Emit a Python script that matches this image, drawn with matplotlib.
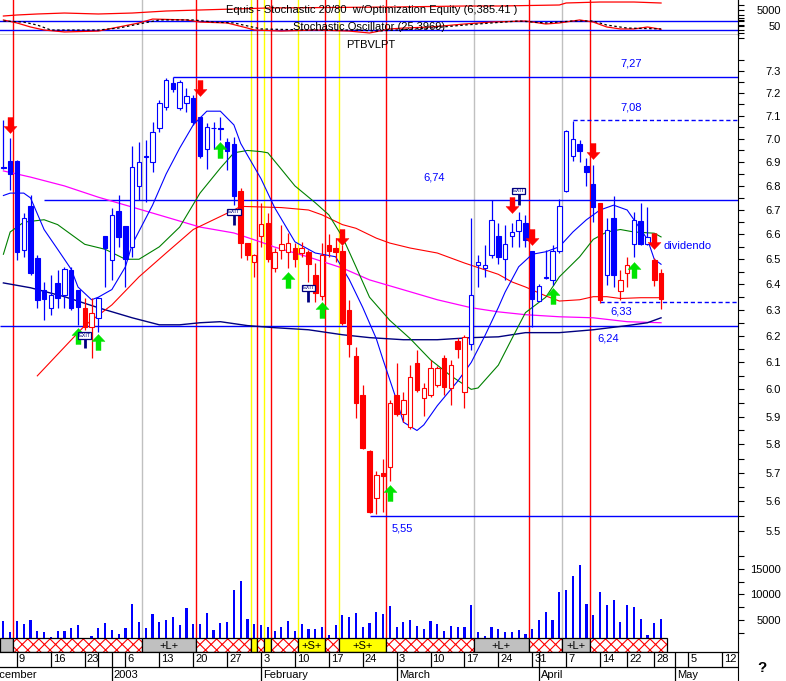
import numpy as np
import matplotlib
matplotlib.use('Agg')
import matplotlib.pyplot as plt
from matplotlib.patches import Rectangle
from matplotlib.path import Path
from matplotlib.ticker import FixedLocator, FixedFormatter, NullFormatter

plt.rcParams['font.family'] = ['Liberation Sans', 'DejaVu Sans']
plt.rcParams['hatch.linewidth'] = 0.8

# daily candles, trading day 0 = 5 Dec 2002 ... 97 = 29 Apr 2003
opens = [6.88, 6.905, 6.905, 6.537, 6.716, 6.505, 6.379, 6.309, 6.406, 6.359,
         6.457, 6.379, 6.309, 6.236, 6.270, 6.594, 6.497, 6.696, 6.634, 6.549,
         6.800, 6.922, 6.901, 7.046, 7.138, 7.245, 7.134, 7.156, 7.178, 7.094,
         6.956, 7.045, 7.048, 6.986, 6.978, 6.779, 6.565, 6.489, 6.594, 6.646,
         6.465, 6.537, 6.529, 6.545, 6.525, 6.529, 6.437, 6.356, 6.557, 6.545,
         6.533, 6.301, 6.125, 5.980, 5.778, 5.612, 5.698, 5.719, 5.980, 5.908,
         5.861, 6.099, 5.969, 5.980, 6.017, 6.118, 6.006, 6.182, 5.992, 6.171,
         6.477, 6.465, 6.517, 6.594, 6.501, 6.594, 6.614, 6.646, 6.533, 6.336,
         6.425, 6.418, 6.533, 6.779, 6.926, 6.978, 6.884, 6.808, 6.728, 6.437,
         6.667, 6.375, 6.445, 6.561, 6.655, 6.561, 6.497, 6.445]
highs = [7.08, 7.004, 6.91, 6.688, 6.762, 6.517, 6.410, 6.437, 6.457, 6.469,
         6.469, 6.38, 6.348, 6.348, 6.35, 6.595, 6.708, 6.762, 6.635, 6.969,
         6.987, 6.995, 7.072, 7.169, 7.267, 7.27, 7.258, 7.222, 7.191, 7.095,
         7.068, 7.072, 7.094, 7.004, 7.008, 6.792, 6.565, 6.52, 6.728, 6.688,
         6.545, 6.638, 6.606, 6.565, 6.569, 6.537, 6.485, 6.565, 6.602, 6.585,
         6.557, 6.340, 6.159, 6.017, 5.78, 5.705, 5.750, 5.962, 6.099, 5.992,
         6.092, 6.148, 6.025, 6.110, 6.088, 6.129, 6.110, 6.194, 6.205, 6.667,
         6.517, 6.557, 6.741, 6.646, 6.638, 6.646, 6.692, 6.679, 6.535, 6.402,
         6.537, 6.557, 6.745, 7.04, 7.077, 6.995, 6.918, 6.888, 6.73, 6.667,
         6.758, 6.457, 6.509, 6.692, 6.728, 6.712, 6.505, 6.461]
lows = [6.87, 6.783, 6.497, 6.509, 6.437, 6.309, 6.262, 6.282, 6.309, 6.309,
        6.301, 6.243, 6.224, 6.118, 6.217, 6.391, 6.418, 6.549, 6.391, 6.509,
        6.741, 6.733, 6.858, 7.029, 7.125, 7.204, 7.125, 7.116, 7.059, 6.918,
        6.871, 6.956, 6.995, 6.867, 6.720, 6.505, 6.497, 6.430, 6.549, 6.489,
        6.449, 6.501, 6.465, 6.469, 6.509, 6.410, 6.332, 6.340, 6.509, 6.489,
        6.243, 6.121, 5.894, 5.785, 5.56, 5.557, 5.564, 5.670, 5.901, 5.879,
        5.854, 5.992, 5.901, 5.973, 6.010, 5.980, 5.944, 6.118, 5.933, 6.148,
        6.391, 6.430, 6.505, 6.481, 6.418, 6.549, 6.549, 6.549, 6.236, 6.335,
        6.42, 6.398, 6.525, 6.775, 6.905, 6.901, 6.800, 6.651, 6.328, 6.398,
        6.391, 6.340, 6.391, 6.509, 6.557, 6.557, 6.395, 6.305]
closes = [6.875, 6.850, 6.529, 6.667, 6.445, 6.340, 6.344, 6.359, 6.348, 6.461,
          6.309, 6.313, 6.236, 6.289, 6.348, 6.545, 6.679, 6.589, 6.501, 6.880,
          6.901, 6.925, 7.029, 7.156, 7.258, 7.218, 7.249, 7.187, 7.072, 6.926,
          7.051, 7.048, 7.044, 6.948, 6.758, 6.565, 6.517, 6.517, 6.642, 6.501,
          6.529, 6.561, 6.565, 6.501, 6.545, 6.481, 6.367, 6.517, 6.533, 6.529,
          6.251, 6.171, 5.951, 5.789, 5.564, 5.691, 5.688, 5.951, 5.908, 5.962,
          6.047, 5.999, 6.006, 6.080, 6.080, 6.010, 6.092, 6.152, 6.197, 6.359,
          6.489, 6.477, 6.659, 6.509, 6.561, 6.610, 6.659, 6.577, 6.344, 6.395,
          6.428, 6.533, 6.716, 7.034, 6.999, 6.948, 6.858, 6.712, 6.340, 6.618,
          6.437, 6.418, 6.477, 6.659, 6.561, 6.589, 6.418, 6.344]
candle_col = 'b' * 12 + 'r' * 2 + 'b' * 21 + 'r' * 34 + 'b' * 19 + 'r' + 'bb' + 'rr' + 'bbb' + 'rr'
volume = [4800, 2650, 4800, 4200, 5000, 2850, 2650, 1650, 2850, 2850,
          3450, 4000, 1300, 1850, 3450, 4400, 3050, 2250, 3450, 8150,
          4600, 3450, 6200, 4600, 5000, 5600, 4000, 7350, 4200, 4200,
          6350, 3050, 4400, 4600, 10900, 12650, 5200, 4200, 4000, 3650,
          2850, 3650, 4800, 2850, 4200, 3250, 3250, 3650, 2050, 4000,
          6000, 5600, 6350, 3650, 4400, 6550, 6200, 7750, 3650, 4600,
          5000, 3800, 3250, 4800, 4200, 2850, 3800, 3650, 3650, 7950,
          2650, 1850, 3650, 3250, 2650, 2650, 3050, 2250, 3250, 5000,
          6550, 5000, 10500, 10900, 13650, 15800, 8150, 6000, 10500, 7950,
          8900, 4600, 7950, 7550, 5200, 2050, 4400, 5200]

# moving averages
ma_blue_day = [0, 1, 3, 4, 6, 8, 10, 11, 13, 14, 16, 18, 19, 22, 24, 26, 28, 30, 32, 34,
               35, 38, 40, 43, 46, 49, 51, 53, 55, 56, 58, 59, 61, 62, 64, 67, 69, 71, 73, 74,
               76, 78, 80, 82, 84, 86, 88, 90, 92, 93, 95, 96, 97]
ma_blue_val = [6.76, 6.77, 6.77, 6.75, 6.62, 6.54, 6.46, 6.39, 6.34, 6.35, 6.38, 6.47, 6.56, 6.72,
               6.85, 6.96, 7.06, 7.12, 7.12, 7.06, 6.98, 6.83, 6.71, 6.57, 6.525, 6.51, 6.42, 6.31,
               6.19, 6.11, 5.96, 5.88, 5.85, 5.87, 5.94, 6.03, 6.10, 6.20, 6.31, 6.37, 6.47, 6.52,
               6.53, 6.55, 6.61, 6.66, 6.70, 6.72, 6.70, 6.66, 6.58, 6.50, 6.48]
ma_green_day = [0, 1, 3, 6, 8, 12, 15, 18, 20, 23, 26, 29, 32, 34, 36, 38, 39, 41, 43, 46,
                48, 50, 51, 52, 54, 57, 60, 63, 66, 69, 70, 73, 75, 77, 80, 82, 85, 87, 89, 91,
                93, 96, 97]
ma_green_val = [6.52, 6.61, 6.65, 6.66, 6.64, 6.56, 6.54, 6.50, 6.50, 6.55, 6.63, 6.77, 6.875,
                6.94, 6.95, 6.945, 6.94, 6.87, 6.80, 6.73, 6.68, 6.59, 6.53, 6.47, 6.35, 6.26,
                6.19, 6.11, 6.05, 6.00, 6.005, 6.09, 6.19, 6.29, 6.35, 6.43, 6.51, 6.58, 6.61,
                6.62, 6.61, 6.605, 6.59]
ma_red_day = [5, 12, 16, 20, 24, 28, 31, 34, 35, 41, 45, 47, 50, 52, 55, 57, 60, 64, 68, 73,
              75, 77, 80, 82, 85, 87, 89, 91, 94, 97]
ma_red_val = [6.05, 6.24, 6.32, 6.43, 6.525, 6.62, 6.66, 6.70, 6.715, 6.71, 6.70, 6.68, 6.64,
              6.625, 6.585, 6.565, 6.545, 6.525, 6.485, 6.44, 6.41, 6.39, 6.355, 6.335, 6.34,
              6.352, 6.352, 6.345, 6.348, 6.348]
ma_pink_day = [0, 4, 9, 14, 19, 24, 29, 34, 38, 40, 45, 50, 54, 59, 64, 69, 73, 77, 82, 87, 92, 97]
ma_pink_val = [6.863, 6.837, 6.800, 6.753, 6.712, 6.671, 6.630, 6.606, 6.569, 6.549, 6.509,
               6.465, 6.418, 6.379, 6.340, 6.309, 6.293, 6.282, 6.274, 6.270, 6.255, 6.251]
ma_navy_day = [0, 4, 9, 14, 19, 23, 26, 29, 32, 36, 40, 45, 50, 54, 59, 64, 69, 73, 77, 82,
               87, 92, 95, 97]
ma_navy_val = [6.406, 6.387, 6.352, 6.309, 6.270, 6.243, 6.243, 6.251, 6.255, 6.240, 6.232,
               6.224, 6.205, 6.194, 6.186, 6.186, 6.194, 6.197, 6.213, 6.213, 6.224, 6.240,
               6.251, 6.270]

# stochastic oscillator and system equity (top pane)
stoch_k_day = [0, 2, 4, 6, 9, 14, 17, 20, 22, 27, 29, 33, 36, 37, 41, 46, 51, 54, 57, 59,
               63, 68, 72, 77, 80, 82, 85, 87, 89, 91, 93, 95, 97]
stoch_k_val = [87, 67, 40, 20, 7, 13, 40, 67, 93, 87, 73, 67, 33, 20, 13, 20, 13, 0, 27, 33,
               40, 60, 73, 80, 60, 67, 87, 73, 40, 27, 27, 40, 25]
stoch_d_day = [0, 3, 5, 7, 14, 17, 20, 23, 28, 31, 34, 36, 38, 45, 52, 55, 58, 63, 68, 72,
               76, 80, 84, 87, 89, 92, 97]
stoch_d_val = [80, 73, 53, 20, 20, 33, 60, 87, 87, 73, 67, 47, 27, 20, 20, 13, 20, 33, 53, 67,
               80, 67, 80, 80, 53, 33, 27]
equity_day = [0, 2, 5, 9, 14, 19, 24, 29, 34, 39, 58, 68, 73, 82, 83, 88, 91, 93, 97]
equity_val = [3810, 4010, 4210, 4400, 4210, 4400, 4800, 5000, 5200, 5400, 5600, 5790, 5790,
              5990, 6390, 6580, 6580, 6580, 6385]

# signals
red_lines = [1, 28, 37, 39, 47, 56, 77, 86]
yellow_lines = [36, 38, 43, 49]
gray_lines = [20, 69, 82]
sell_day = [1, 29, 50, 75, 78, 87, 96]
sell_px = [7.06, 7.224, 6.591, 6.720, 6.591, 6.948, 6.573]
buy_day = [11, 14, 32, 42, 47, 57, 81, 93]
buy_px = [6.202, 6.176, 6.950, 6.416, 6.301, 5.629, 6.354, 6.459]
exit_day = [12, 34, 45, 76]
exit_px = [6.202, 6.692, 6.387, 6.779]
exit_stem = [6.156, 6.638, 6.332, 6.720]

band_bounds = [1, 20, 28, 36, 37, 38, 39, 43, 47, 49, 56, 69, 77, 82, 86]
band_kind = ['g', 'h', 'g', 'h', 'y', 'h', 'y', 'h', 'y', 'h', 'y', 'h', 'g', 'h', 'g', 'h']
band_text = ['', '', '+L+', '', '', '', '', '', '+S+', '', '+S+', '', '+L+', '', '+L+', '']

# support / resistance levels
level_val = [7.27, 7.08, 6.74, 6.33, 6.24, 5.55]
level_from = [25, 84, 6, 88, -0.5, 54]
level_dash = [False, True, False, True, False, False]
note_text = ['7,27', '7,08', '6,74', '6,33', '6,24', '5,55', 'dividendo']
note_day = [92.6, 92.6, 63.5, 91.1, 89.2, 58.8, 97.3]
note_px = [7.334, 7.134, 6.837, 6.293, 6.190, 5.506, 6.553]

# date axis
week_day = [2, 7, 12, 14, 18, 23, 28, 33, 43, 48, 53, 63, 68, 73, 78, 83, 88, 92, 96, 101, 106]
week_lab = ['9', '16', '23', '', '6', '13', '20', '27', '10', '17', '24', '10', '17', '24',
            '31', '7', '14', '22', '28', '5', '12']
month_day = [16, 38, 58, 79, 99]
month_first = ['', '3', '3', '', '']
month_lab = ['2003', 'February', 'March', 'April', 'May']

BLUE, RED, NAVY = '#0000ff', '#ff0000', '#000080'
GREEN_ARROW, YELLOW, GRAY = '#00e400', '#ffff00', '#c0c0c0'
W, H = 786, 681
XMIN, XMAX = -0.5015, 108.35


def fx(x):
    return x / W


def fy(y):
    return 1 - y / H


fig = plt.figure(figsize=(W / 100, H / 100), dpi=100)
ax_top = fig.add_axes([0, fy(35), fx(738), 35 / H])
ax = fig.add_axes([0, fy(545), fx(738), 510 / H])
ax_vol = fig.add_axes([0, fy(638), fx(738), 93 / H])
ax_band = fig.add_axes([0, fy(652), fx(738), 14 / H])
ax_date = fig.add_axes([0, 0, fx(738), 29 / H])
ax_eq = ax_top.twinx()

for a in (ax_top, ax_eq, ax, ax_vol, ax_band, ax_date):
    a.set_xlim(XMIN, XMAX)
    a.set_xticks([])
    for s in ('left', 'top', 'bottom'):
        a.spines[s].set_visible(False)
    a.spines['right'].set_linewidth(0.8)
ax_top.spines['bottom'].set_visible(True)
ax_top.spines['bottom'].set_linewidth(1.0)

# signal verticals
for a in (ax_top, ax, ax_vol):
    for d in red_lines:
        a.axvline(d + 0.45, color=RED, lw=1.0, zorder=1)
    for d in yellow_lines:
        a.axvline(d + 0.45, color=YELLOW, lw=1.0, zorder=1)
    for d in gray_lines:
        a.axvline(d + 0.45, color=GRAY, lw=1.0, zorder=1)

# top pane
ax_top.set_ylim(-13.3, 220)
ax_top.axhline(80, color=BLUE, lw=1.0, zorder=2)
ax_top.axhline(20, color=BLUE, lw=1.0, zorder=2)
ax_top.plot(stoch_k_day, stoch_k_val, color=RED, lw=0.9, zorder=3)
ax_top.plot(stoch_d_day, stoch_d_val, color='black', lw=0.9, ls=(0, (2, 2)), zorder=3)
ax_eq.set_ylim(50, 6980)
ax_eq.plot(equity_day, equity_val, color=RED, lw=0.9)

# price pane
idx = np.arange(len(opens))
o, h, l, c = (np.array(v) for v in (opens, highs, lows, closes))
cols = [BLUE if k == 'b' else RED for k in candle_col]
face = [cols[i] if c[i] < o[i] else 'white' for i in idx]
ax.set_yscale('log')
ax.vlines(idx, l, h, colors=cols, lw=0.9, zorder=4)
bot = np.minimum(o, c)
ax.bar(idx, np.maximum(o, c) - bot, bottom=bot, width=0.66, color=face,
       edgecolor=cols, linewidth=0.8, zorder=5)

ax.plot(ma_pink_day, ma_pink_val, color='#ff00ff', lw=0.9, zorder=3)
ax.plot(ma_navy_day, ma_navy_val, color=NAVY, lw=1.0, zorder=3)
ax.plot(ma_red_day, ma_red_val, color=RED, lw=0.8, zorder=3)
ax.plot(ma_green_day, ma_green_val, color='#008000', lw=0.8, zorder=3)
ax.plot(ma_blue_day, ma_blue_val, color=BLUE, lw=0.8, zorder=3)

for v, s, dsh in zip(level_val, level_from, level_dash):
    ax.hlines(v, s, XMAX, colors=BLUE, lw=1.0, linestyles=(0, (3, 2)) if dsh else 'solid', zorder=2)
for t, d, p in zip(note_text, note_day, note_px):
    ax.text(d, p, t, color=BLUE, fontsize=8, ha='left' if t == 'dividendo' else 'center',
            va='center', zorder=7)

up = [(0, 8), (6.5, 1), (2.5, 1), (2.5, -8), (-2.5, -8), (-2.5, 1), (-6.5, 1), (0, 8)]
up_arrow = Path(up, closed=True)
down_arrow = Path([(x, -y) for x, y in up], closed=True)
ax.plot(buy_day, buy_px, ls='none', marker=up_arrow, ms=11.5, mfc=GREEN_ARROW,
        mec=GREEN_ARROW, mew=0.3, zorder=6)
ax.plot(sell_day, sell_px, ls='none', marker=down_arrow, ms=11.5, mfc=RED,
        mec=RED, mew=0.3, zorder=6)
for d, p, s in zip(exit_day, exit_px, exit_stem):
    ax.vlines(d, s, p, colors=NAVY, lw=2.0, zorder=6)
    ax.text(d, p, 'EXIT', fontsize=4, ha='center', va='center', color=NAVY, zorder=7,
            bbox=dict(boxstyle='square,pad=0.12', fc='white', ec=NAVY, lw=0.9))

ax.set_ylim(5.452, 7.4617)
price_ticks = [5.5, 5.6, 5.7, 5.8, 5.9, 6.0, 6.1, 6.2, 6.3, 6.4, 6.5, 6.6, 6.7, 6.8, 6.9,
               7.0, 7.1, 7.2, 7.3]
ax.yaxis.set_major_locator(FixedLocator(price_ticks))
ax.yaxis.set_major_formatter(FixedFormatter(['%.1f' % v for v in price_ticks]))
ax.yaxis.set_minor_locator(FixedLocator(np.arange(5.45, 7.5, 0.1)))
ax.yaxis.set_minor_formatter(NullFormatter())

# volume pane
ax_vol.bar(idx, volume, width=0.32, color=BLUE, zorder=3)
ax_vol.set_ylim(1470, 19700)
ax_vol.yaxis.set_major_locator(FixedLocator([5000, 10000, 15000]))
ax_vol.yaxis.set_minor_locator(FixedLocator([2500, 7500, 12500, 17500]))

ax_top.yaxis.set_major_locator(FixedLocator([50]))
ax_top.yaxis.set_minor_locator(FixedLocator([0, 20, 80, 100]))
ax_eq.yaxis.set_major_locator(FixedLocator([5000]))
ax_eq.yaxis.set_minor_locator(FixedLocator([2000, 3000, 4000, 6000]))

for a in (ax, ax_vol, ax_top, ax_eq):
    a.yaxis.tick_right()
    a.tick_params(axis='y', which='both', direction='out', length=4.5, width=0.8,
                  labelsize=8, pad=26.5, labelleft=False, labelright=True)

# system band
edges = [XMIN] + [b + 0.45 for b in band_bounds] + [97.95]
fills = {'g': GRAY, 'y': YELLOW}
ax_band.set_ylim(0, 1)
ax_band.set_yticks([])
for k, kind in enumerate(band_kind):
    x0, x1 = edges[k], edges[k + 1]
    if kind == 'h':
        ax_band.add_patch(Rectangle((x0, 0), x1 - x0, 1, facecolor='white', edgecolor=RED,
                                    hatch='xxx', lw=0))
    else:
        ax_band.add_patch(Rectangle((x0, 0), x1 - x0, 1, facecolor=fills[kind], lw=0))
    ax_band.add_patch(Rectangle((x0, 0), x1 - x0, 1, fill=False, edgecolor='black',
                                lw=0.9, clip_on=False))
    if band_text[k]:
        ax_band.text((x0 + x1) / 2, 0.45, band_text[k], ha='center', va='center', fontsize=8)

# date rows
ax_date.set_ylim(0, 29)
ax_date.set_yticks([])
ax_date.axhline(14.5, color='black', lw=0.9)
ax_date.axhline(29, color='black', lw=0.9, clip_on=False)
for d, t in zip(week_day, week_lab):
    ax_date.vlines(d, 14.5, 29, colors='black', lw=0.9)
    ax_date.text(d + 0.3, 21.5, t, fontsize=8, ha='left', va='center')
for d, t0, t in zip(month_day, month_first, month_lab):
    ax_date.vlines(d, 0, 29, colors='black', lw=0.9)
    if t0:
        ax_date.text(d + 0.3, 21.5, t0, fontsize=8, ha='left', va='center')
    ax_date.text(d + 0.3, 6.5, t, fontsize=8, ha='left', va='center')
ax_date.text(-2.75, 6.5, 'December', fontsize=8, ha='left', va='center', clip_on=False)

# header texts
fig.text(fx(226), fy(10), 'Equis - Stochastic 20/80  w/Optimization Equity (6,385.41 )',
         fontsize=8, ha='left', va='center')
fig.text(fx(293), fy(27), 'Stochastic Oscillator (25.3969)', fontsize=8, ha='left', va='center')
fig.text(fx(346), fy(45), 'PTBVLPT', fontsize=8, ha='left', va='center')
fig.text(fx(762), fy(668), '?', fontsize=11, fontweight='bold', ha='center', va='center')

for a in (ax, ax_vol, ax_top, ax_eq):
    for t in a.yaxis.get_major_ticks():
        t.label2.set_horizontalalignment('right')

fig.savefig('out.png', dpi=100)
